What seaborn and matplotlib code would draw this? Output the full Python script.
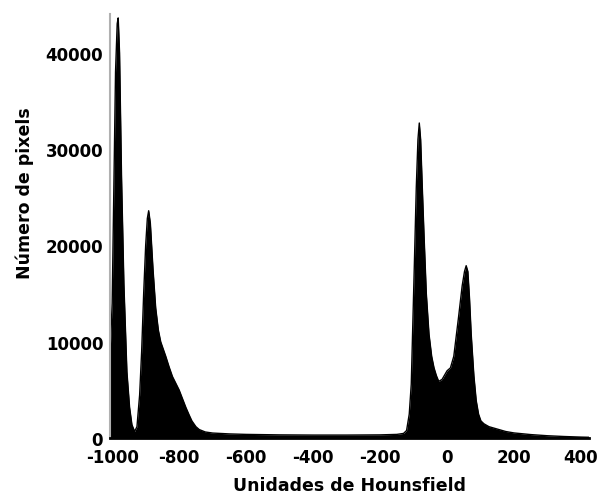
import numpy as np
import pandas as pd
import matplotlib
matplotlib.use("Agg")
import matplotlib.pyplot as plt
import seaborn as sns

# histogram (Hounsfield units vs pixel count)
hu = [-1006, -1000, -995, -990, -985, -982, -978, -972, -965, -956, -948, -941, -933, -926,
      -918, -912, -906, -900, -895, -891, -886, -878, -870, -862, -855, -848, -840, -830,
      -820, -810, -800, -790, -780, -770, -762, -750, -740, -722, -700, -650, -600,
      -500, -400, -300, -200, -150, -130, -121, -113, -107, -98, -92, -87, -83, -79,
      -74, -69, -62, -54, -46, -39, -32, -25, -15, -5, 0, 10, 20, 34, 45, 52, 57, 62,
      67, 72, 80, 87, 94, 101, 110, 125, 150, 175, 200, 250, 300, 350, 400, 425]
counts = [9000, 14000, 26000, 38000, 43000, 43600, 40000, 27000, 16000, 6900, 3200, 1400, 700, 1200,
          4500, 9000, 15000, 20000, 22800, 23600, 22300, 17500, 13500, 11200, 10000, 9300, 8500, 7400,
          6400, 5700, 5000, 4100, 3200, 2400, 1800, 1200, 900, 650, 540, 450, 400,
          350, 330, 330, 350, 400, 500, 800, 2500, 5600, 17700, 26000, 31000, 32700, 31000,
          26000, 21200, 15000, 10800, 8500, 7300, 6500, 5900, 6100, 6700, 7000, 7300, 8500, 12500, 15800, 17300, 17900, 17300,
          14500, 10800, 6500, 3900, 2500, 1800, 1500, 1200, 950, 700, 550, 380, 260, 180, 120, 100]

df = pd.DataFrame({"hu": hu, "count": counts})

plt.rcParams['font.family'] = ['DejaVu Sans']
plt.rcParams['axes.unicode_minus'] = False
fig = plt.figure(figsize=(6.02, 5.02), dpi=100)
ax = fig.add_axes([0.183, 0.125, 0.795, 0.845])

sns.lineplot(data=df, x="hu", y="count", color="black", linewidth=1, ax=ax)
ax.fill_between(df["hu"], df["count"], 0, color="black", linewidth=0)

ax.set_xlim(-1006, 423)
ax.set_ylim(0, 44000)
ax.set_xticks([-1000, -800, -600, -400, -200, 0, 200, 400])
ax.set_yticks([0, 10000, 20000, 30000, 40000])
ax.tick_params(axis="both", length=0, labelsize=12)
ax.tick_params(axis="x", pad=7)
ax.tick_params(axis="y", pad=5)
for lbl in ax.get_xticklabels() + ax.get_yticklabels():
    lbl.set_fontweight("bold")

ax.set_xlabel("Unidades de Hounsfield", fontsize=12.5, fontweight="bold", labelpad=7)
ax.set_ylabel("Número de pixels", fontsize=12.5, fontweight="bold")
ax.yaxis.set_label_coords(-0.16, 0.58)

for side in ["top", "right"]:
    ax.spines[side].set_visible(False)
ax.spines["left"].set_color("#b0b0b0")
ax.spines["left"].set_linewidth(1.5)
ax.spines["bottom"].set_color("black")
ax.spines["bottom"].set_linewidth(2)

fig.savefig("out.png", dpi=100)
